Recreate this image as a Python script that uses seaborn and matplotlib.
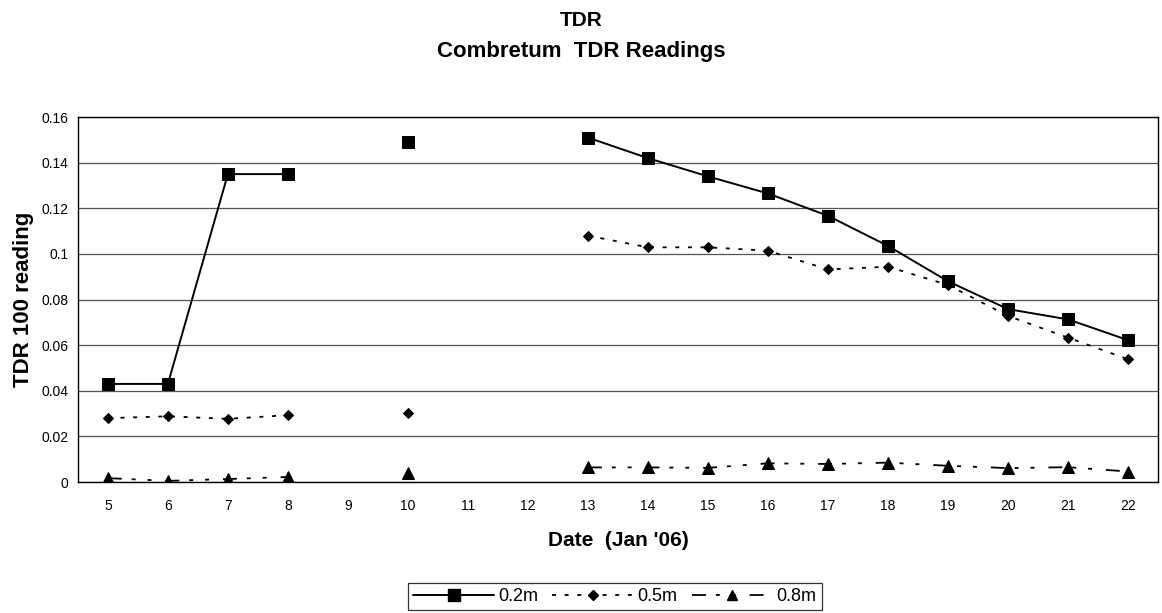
import numpy as np
import pandas as pd
import matplotlib
matplotlib.use("Agg")
import matplotlib.pyplot as plt
from matplotlib.lines import Line2D
import seaborn as sns

# Dates in January 2006 (category axis) and TDR readings per depth; NaN = no reading
dates = [5, 6, 7, 8, 9, 10, 11, 12, 13, 14, 15, 16, 17, 18, 19, 20, 21, 22]
depth_02 = [0.043, 0.043, 0.135, 0.135, np.nan, 0.149, np.nan, np.nan,
            0.151, 0.142, 0.134, 0.1265, 0.1167, 0.1035, 0.088, 0.0758, 0.0713, 0.0622]
depth_05 = [0.028, 0.0288, 0.0277, 0.0293, np.nan, 0.0301, np.nan, np.nan,
            0.108, 0.1029, 0.1029, 0.1014, 0.0932, 0.0944, 0.0864, 0.0728, 0.0633, 0.0538]
depth_08 = [0.0017, 0.0005, 0.0013, 0.0022, np.nan, 0.0038, np.nan, np.nan,
            0.0064, 0.0064, 0.0062, 0.0082, 0.0079, 0.0085, 0.0071, 0.0061, 0.0065, 0.0046]
series_names = ["0.2m", "0.5m", "0.8m"]
y_ticks = [0, 0.02, 0.04, 0.06, 0.08, 0.1, 0.12, 0.14, 0.16]
y_tick_labels = ["0", "0.02", "0.04", "0.06", "0.08", "0.1", "0.12", "0.14", "0.16"]

sns.set_theme(style="white")
plt.rcParams["font.family"] = ["Liberation Sans", "DejaVu Sans"]
plt.rcParams.update({"text.color": "black", "axes.labelcolor": "black",
                     "xtick.color": "black", "ytick.color": "black"})

styles = {
    "0.2m": dict(marker="s", ms=9, ls="-", lw=1.4),
    "0.5m": dict(marker="D", ms=5.5, ls=(0, (2.2, 4.8)), lw=1.3),
    "0.8m": dict(marker="^", ms=8, ls=(0, (7.7, 5.5, 2.2, 6.6, 2.2, 7.7)), lw=1.3),
}


def to_frame(values):
    """Long table with a segment id so gaps in the record break the line."""
    pos = np.arange(len(values))
    vals = np.asarray(values, dtype=float)
    seg = np.cumsum(np.isnan(vals))
    df = pd.DataFrame({"pos": pos, "value": vals, "segment": seg})
    return df.dropna()


fig = plt.figure(figsize=(11.62, 6.13), dpi=100)
ax = fig.add_axes([0.067, 0.2137, 0.9296, 0.5953])

for name, values in zip(series_names, [depth_02, depth_05, depth_08]):
    st = styles[name]
    df = to_frame(values)
    sns.lineplot(data=df, x="pos", y="value", units="segment", estimator=None,
                 color="black", marker=st["marker"], markersize=st["ms"],
                 markeredgecolor="black", markerfacecolor="black",
                 linestyle=st["ls"], linewidth=st["lw"], ax=ax, legend=False)

ax.set_xlim(-0.5, len(dates) - 0.5)
ax.set_ylim(0, 0.16)
ax.set_xticks(np.arange(len(dates)))
ax.set_xticklabels([str(d) for d in dates], fontsize=10)
ax.set_xticks(np.arange(-0.5, len(dates)), minor=True)
ax.tick_params(axis="x", which="major", length=0, pad=12)
ax.tick_params(axis="x", which="minor", length=4, width=0.8, color="black", direction="out")
ax.set_yticks(y_ticks)
ax.set_yticklabels(y_tick_labels, fontsize=10)
ax.tick_params(axis="y", length=4, width=0.8, color="black", direction="out", pad=3)
ax.yaxis.grid(True, color="#555555", linewidth=0.9)
ax.xaxis.grid(False)
for sp in ax.spines.values():
    sp.set_color("black")
    sp.set_linewidth(1.0)
    sp.set_visible(True)

ax.set_xlabel("Date  (Jan '06)", fontsize=15, fontweight="bold", labelpad=13)
ax.set_ylabel("TDR 100 reading", fontsize=16, fontweight="bold", labelpad=5)

fig.text(0.5, 1 - 21 / 613, "TDR", ha="center", va="center", fontsize=15, fontweight="bold")
fig.text(0.5, 1 - 51 / 613, "Combretum  TDR Readings", ha="center", va="center",
         fontsize=16, fontweight="bold")

handles = [Line2D([], [], color="black", marker=styles[n]["marker"],
                  markersize=styles[n]["ms"] * 0.9, linestyle=styles[n]["ls"],
                  linewidth=styles[n]["lw"]) for n in series_names]
leg = fig.legend(handles, series_names, loc="center", bbox_to_anchor=(0.529, 0.027),
                 ncol=3, frameon=True, fancybox=False, fontsize=13,
                 handlelength=4.5, handletextpad=0.2, columnspacing=0.8,
                 borderpad=0.3, borderaxespad=0)
leg.get_frame().set_edgecolor("black")
leg.get_frame().set_linewidth(0.9)

fig.savefig("out.png", dpi=100, facecolor="white")
